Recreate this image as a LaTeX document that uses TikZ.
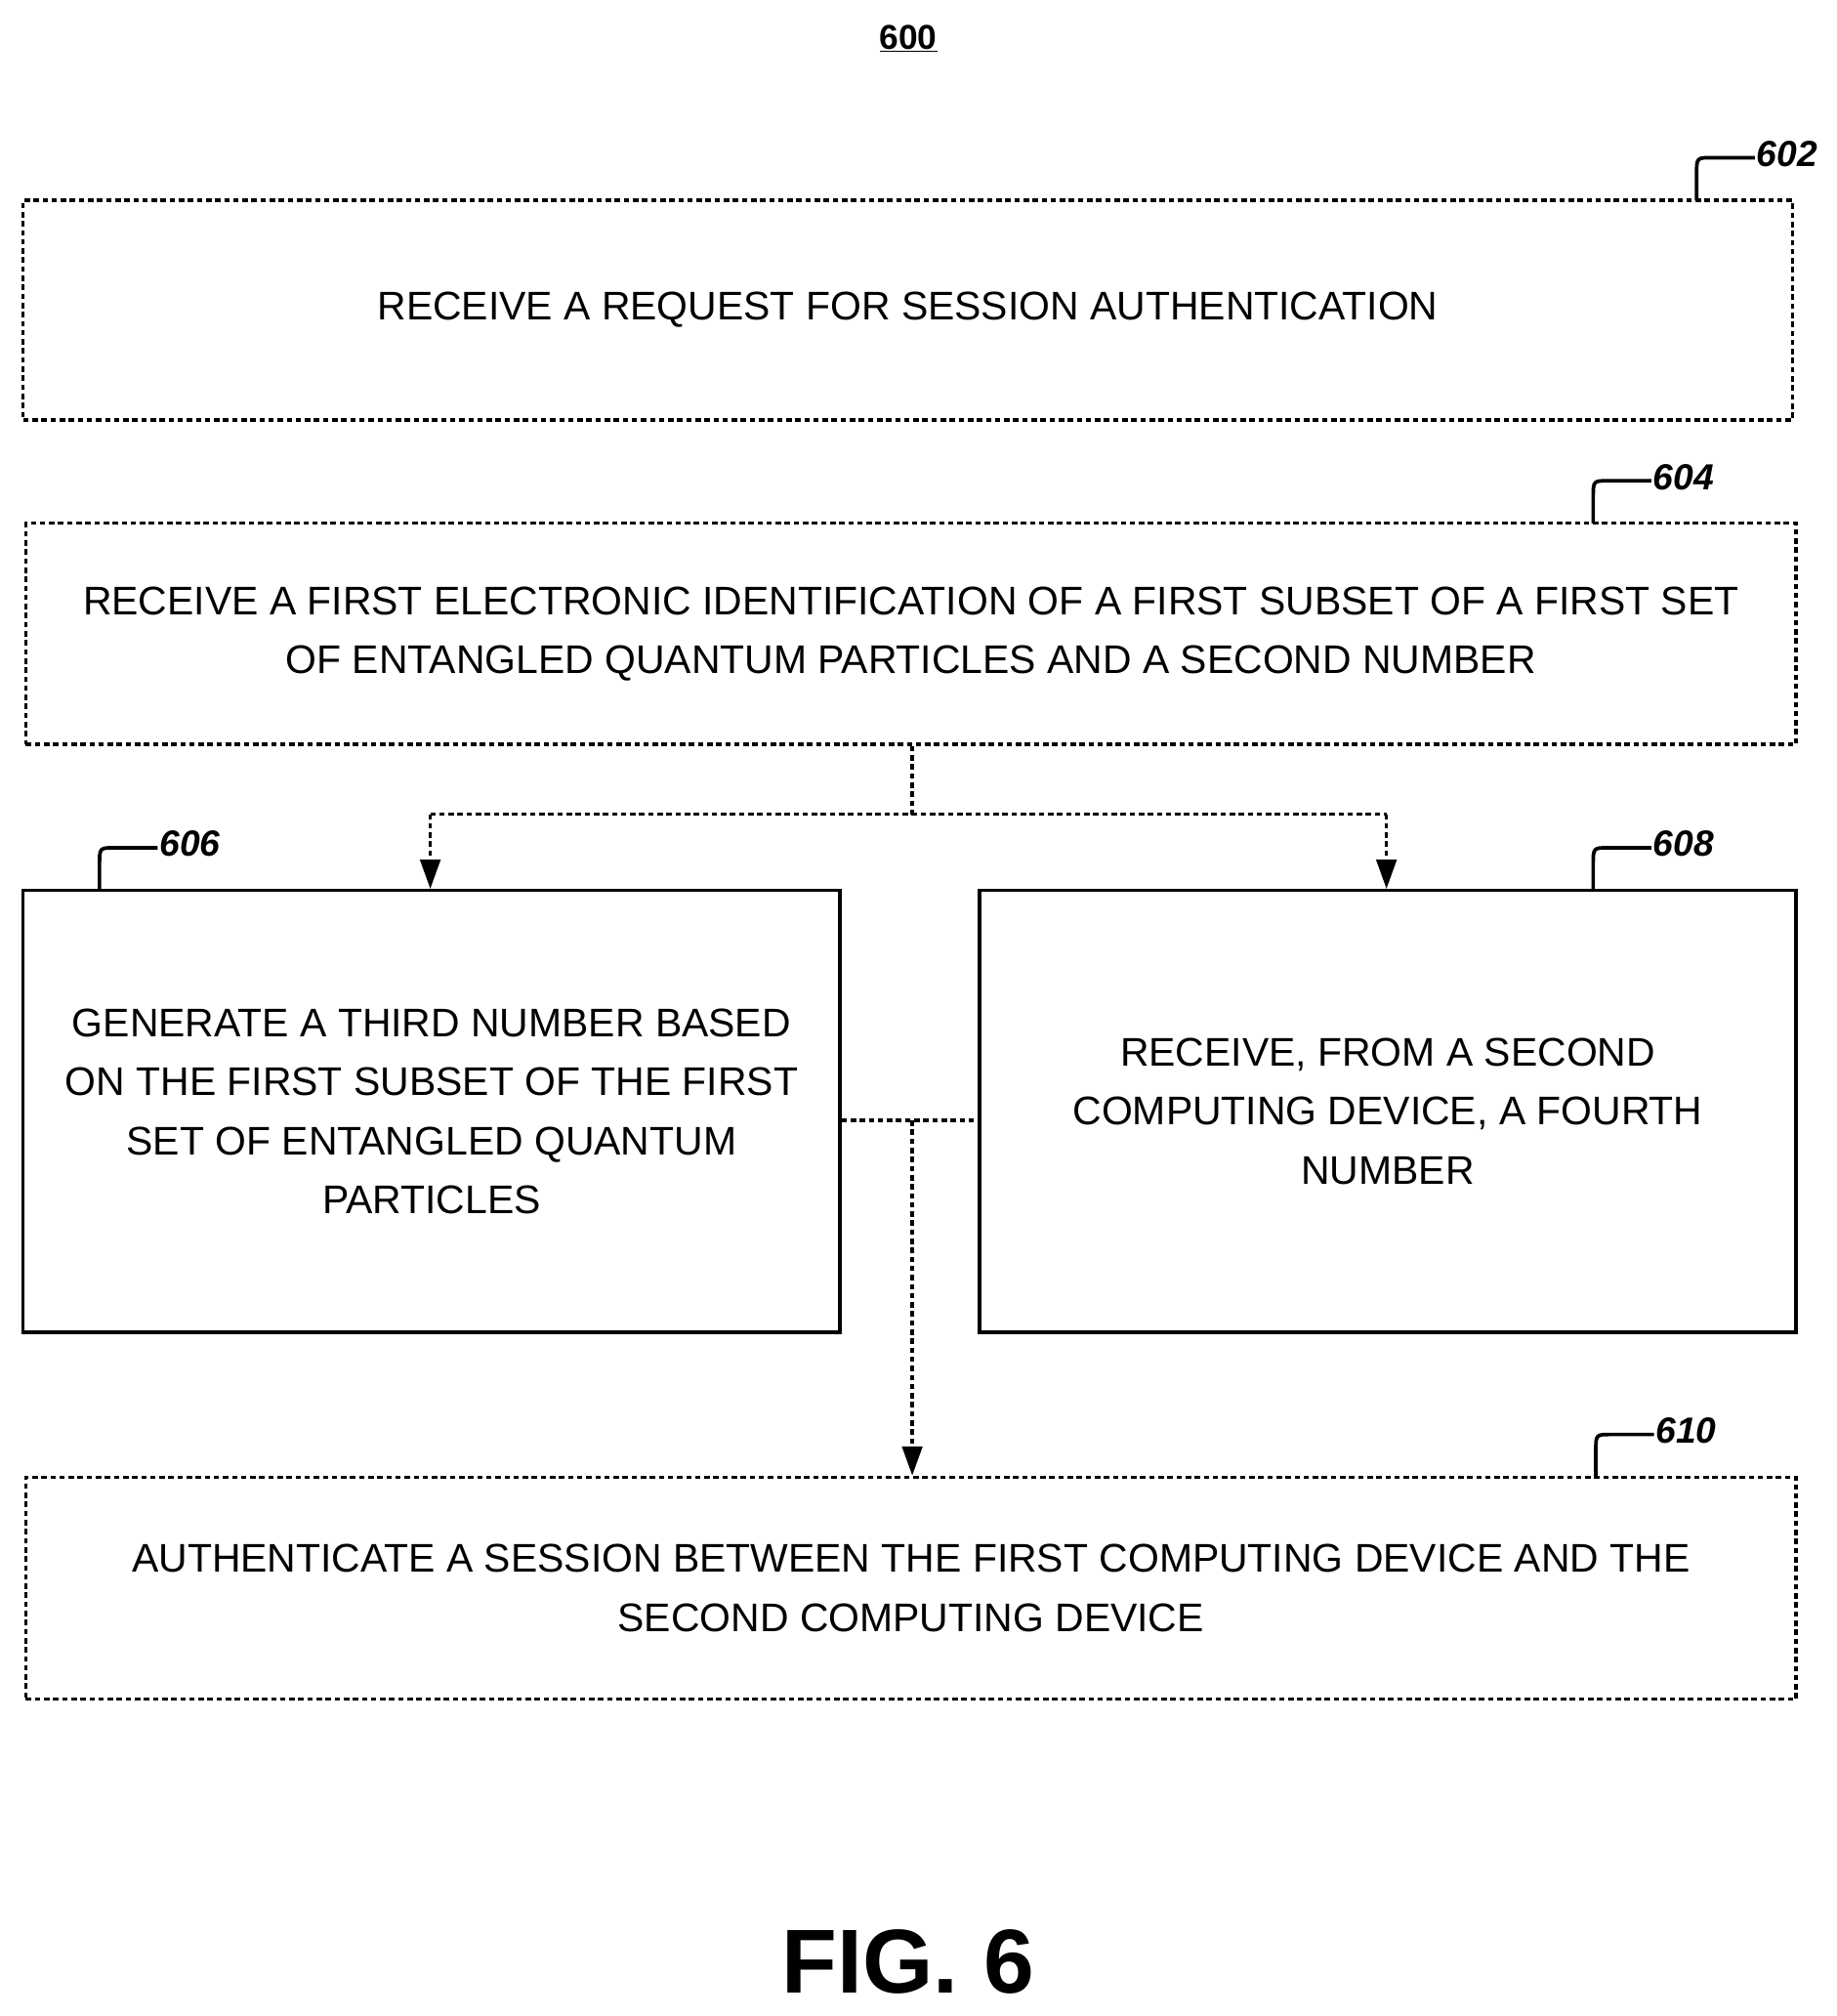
\documentclass[tikz,border=0pt]{standalone}
\usepackage{fontspec}
\setmainfont{Liberation Sans}
\usetikzlibrary{arrows.meta}
\begin{document}
\begin{tikzpicture}[x=0.05cm,y=-0.05cm,
  box/.style={draw,line width=3.5pt,inner sep=0pt,align=center,font=\fontsize{44}{65}\selectfont},
  dbox/.style={box,dash pattern=on 6pt off 4pt},
  conn/.style={line width=3.5pt,dash pattern=on 6pt off 4pt},
  arr/.style={conn,-{Triangle[length=32pt,width=22pt]}},
  ref/.style={font=\fontsize{40}{44}\selectfont\itshape\bfseries,anchor=west},
  hook/.style={line width=4pt}]
\useasboundingbox (0,0) rectangle (1421,1560);
\node[font=\fontsize{38}{40}\selectfont\bfseries] (t) at (703,30) {\underline{600}};
\node[dbox,minimum width=1369*0.05cm,minimum height=170*0.05cm] (b602) at (702.5,240) {RECEIVE A REQUEST FOR SESSION AUTHENTICATION};
\node[dbox,minimum width=1370*0.05cm,minimum height=171*0.05cm] (b604) at (705,490.5) {RECEIVE A FIRST ELECTRONIC IDENTIFICATION OF A FIRST SUBSET OF A FIRST SET\\OF ENTANGLED QUANTUM PARTICLES AND A SECOND NUMBER};
\node[box,minimum width=632*0.05cm,minimum height=342*0.05cm] (b606) at (334,860) {GENERATE A THIRD NUMBER BASED\\ON THE FIRST SUBSET OF THE FIRST\\SET OF ENTANGLED QUANTUM\\PARTICLES};
\node[box,minimum width=632*0.05cm,minimum height=342*0.05cm] (b608) at (1074,860) {RECEIVE, FROM A SECOND\\COMPUTING DEVICE, A FOURTH\\NUMBER};
\node[dbox,minimum width=1370*0.05cm,minimum height=172*0.05cm] (b610) at (705,1229) {AUTHENTICATE A SESSION BETWEEN THE FIRST COMPUTING DEVICE AND THE\\SECOND COMPUTING DEVICE};
\node[font=\fontsize{100}{105}\selectfont\bfseries] (fig) at (703,1518) {FIG. 6};
% connectors
\coordinate (s) at (706,630);
\coordinate (sl) at (333,630);
\coordinate (sr) at (1073,630);
\coordinate (m) at (706,867);
\draw[conn] (b604.south -| s) -- (s);
\draw[conn] (sl) -- (sr);
\draw[arr] (sl) -- (b606.north -| sl);
\draw[arr] (sr) -- (b608.north -| sr);
\draw[conn] (b606.east |- m) -- (b608.west |- m);
\draw[arr] (m) -- (b610.north -| m);
% reference labels
\foreach \n/\x/\y in {602/1313/155,604/1233/405,606/77/689,608/1233/689,610/1235/1143}{
  \draw[hook] (\x,\y) -- (\x,\y-20) .. controls (\x,\y-33) .. (\x+12,\y-33) -- (\x+45,\y-33);
  \node[ref] at (\x+44,\y-36) {\n};
}
\end{tikzpicture}
\end{document}
